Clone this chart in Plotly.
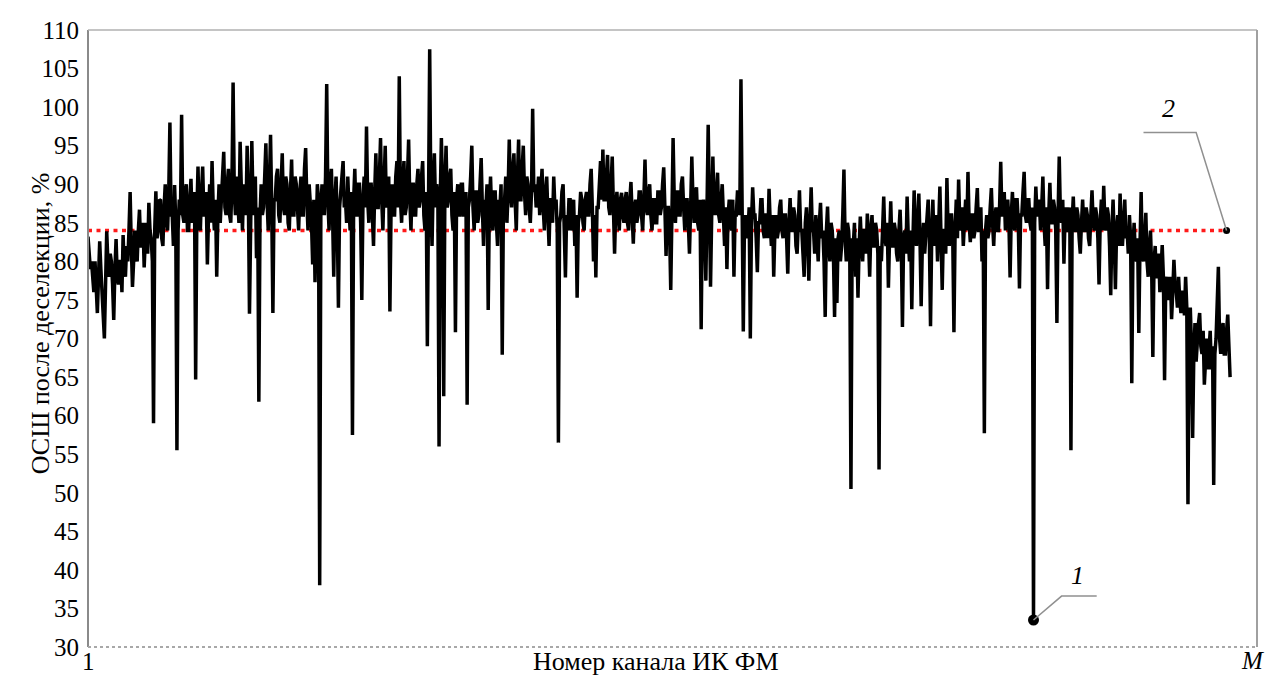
import plotly.graph_objects as go

# OSNR after deselection, %, per IR FPA channel
snr = [
    83.2, 81, 79, 80, 78, 76, 80, 77, 73.3, 78, 82.6, 79, 76, 74, 70, 77, 83.9, 80, 78, 81,
    80, 77, 72.4, 79, 82.9, 78, 77, 80, 80, 76, 83.4, 79, 78, 82, 80, 84, 89, 82, 76.7, 80,
    84, 81, 80, 84, 86.7, 82, 82, 85, 79.2, 83, 85, 81, 87.6, 84, 83, 80, 59, 84, 89.1, 83,
    84, 88, 87.9, 83, 82, 87, 90, 85, 84, 89, 98, 86, 86, 82, 89.9, 85, 55.5, 84, 88, 86,
    99, 86, 85, 89, 90, 84, 84, 88, 90.7, 85, 86, 89, 64.7, 86, 92.3, 85, 84, 89, 92.3, 86,
    86, 89, 79.6, 86, 90, 85, 93, 87, 84, 88, 78, 86, 90, 85, 88, 91, 94.2, 87, 86, 90,
    92, 86, 85, 90, 103.2, 89, 86, 91, 88, 85, 95.5, 88, 84, 90, 88, 86, 95, 89, 73.2, 86,
    95.6, 88, 86, 91, 80.4, 87, 61.8, 86, 90, 86, 87, 91, 95.3, 88, 84, 90, 96.4, 87, 73.3, 88,
    88, 91, 92, 86, 85, 90, 94, 87, 86, 91, 90, 85, 84, 89, 93.2, 86, 86, 91, 90, 87,
    84, 89, 91, 86, 86, 92, 94.7, 88, 84, 90, 88, 85, 79.6, 88, 77.3, 86, 90, 88, 38, 87,
    90, 87, 86, 91, 103, 88, 84, 90, 92, 86, 78, 88, 91, 85, 74, 87, 89, 91, 93, 87,
    88, 85, 91, 87, 84, 89, 57.5, 88, 92, 86, 86, 90, 90, 85, 75, 88, 91, 87, 97.5, 88,
    85, 90, 90, 86, 82, 89, 94, 87, 87, 91, 96, 88, 84, 90, 95, 87, 88, 91, 73.5, 87,
    90, 86, 86, 91, 93, 87, 104, 88, 85, 90, 93, 86, 87, 91, 95.8, 88, 84, 90, 90, 86,
    86, 90, 92, 87, 88, 91, 93, 86, 84, 89, 69, 88, 107.5, 88, 82, 90, 94, 87, 90, 88,
    56, 88, 96, 89, 62.5, 90, 95, 87, 88, 91, 92, 86, 84, 89, 70.8, 88, 90, 86, 86, 90,
    90, 86, 86, 89, 61.4, 87, 88, 91, 95, 87, 84, 89, 89, 85, 86, 90, 93.4, 87, 82, 88,
    87, 90, 73.7, 87, 91, 86, 84, 89, 89, 85, 82, 88, 87, 90, 67.9, 87, 88, 91, 85, 89,
    95.8, 89, 87, 92, 94, 88, 84, 91, 95.8, 88, 88, 92, 95, 89, 86, 91, 90, 87, 85, 89,
    99.8, 89, 90, 87, 88, 91, 86, 89, 92, 87, 84, 89, 91, 86, 82, 88, 88, 85, 91, 87,
    88, 84, 56.5, 85, 86, 89, 90, 84, 77.9, 86, 84, 88, 88, 84, 85, 88, 82, 86, 75.3, 85,
    86, 89, 88, 85, 84, 88, 89, 86, 86, 90, 92, 87, 80, 86, 77.9, 87, 87, 90, 93, 88,
    94.5, 88, 88, 91, 93.8, 87, 86, 90, 93.6, 87, 81, 87, 89, 86, 84, 88, 88.9, 86, 85, 88,
    89, 85, 84, 88, 90.3, 86, 82.3, 87, 88, 85, 86, 89, 89, 86, 84, 88, 93.2, 87, 86, 89,
    90, 86, 84, 88, 88, 85, 85, 89, 89, 86, 87, 90, 92.2, 87, 80.7, 87, 87, 84, 76.3, 86,
    96, 88, 85, 89, 89, 86, 86, 90, 91, 87, 84, 88, 88, 85, 81, 87, 93.6, 88, 85, 89,
    89.6, 85, 84, 88, 71.2, 86, 88, 84, 77.5, 87, 97.7, 88, 76.7, 86, 93.6, 87, 86, 89, 91.5, 86,
    85, 88, 90, 86, 82, 87, 79, 86, 88, 85, 84, 88, 78, 86, 86, 89, 89, 86, 103.6, 87,
    70.9, 85, 86, 83, 84, 87, 70, 85, 89.6, 86, 86, 83, 78.6, 85, 85, 88, 88, 84, 83, 86,
    86, 83, 89.4, 85, 82, 86, 78, 84, 86, 83, 84, 87, 88, 84, 83, 86, 86, 83, 78.4, 85,
    88.2, 84, 84, 87, 86, 82, 81, 85, 89.2, 84, 84, 81, 78, 85, 87, 83, 77.5, 85, 89.6, 84,
    84, 81, 86, 83, 80, 85, 87.6, 83, 84, 80, 72.8, 84, 87.1, 82, 80, 85, 84, 81, 72.8, 83,
    74.6, 83, 84, 80, 82, 86, 91.9, 83, 80, 85, 84, 81, 50.5, 83, 82, 85, 78, 83, 75.3, 82,
    85.8, 82, 80, 84, 84, 81, 86.2, 83, 78, 84, 86, 82, 82, 85, 84, 81, 53, 82, 80, 84,
    88.4, 83, 82, 85, 76.6, 83, 87.8, 82, 82, 85, 84, 81, 80, 84, 86.7, 82, 71.5, 83, 84, 81,
    88.4, 83, 80, 84, 73.8, 83, 89.2, 84, 82, 85, 88.8, 83, 74.2, 82, 85, 81, 83, 86, 88, 83,
    71.6, 83, 88, 82, 84, 86, 80, 84, 89.7, 83, 76.3, 84, 84, 81, 90.8, 84, 82, 86, 86, 83,
    70.8, 84, 88, 83, 90.6, 85, 84, 87, 82, 85, 88, 84, 91.6, 85, 82.5, 86, 86, 83, 84, 87,
    89.5, 84, 84, 87, 80, 84, 57.7, 84, 86, 83, 84, 87, 89.5, 85, 82, 86, 87, 84, 84, 87,
    92.9, 86, 86, 89, 84, 87, 88, 85, 77.9, 86, 89, 85, 84, 88, 88, 85, 76.5, 86, 86, 89,
    91.6, 86, 85, 88, 88, 85, 84, 87, 33.5, 85, 89.7, 86, 86, 88, 84, 87, 91, 85, 82, 87,
    76.4, 86, 90.2, 85, 85, 88, 87, 84, 72, 86, 93.6, 86, 85, 88, 79.7, 86, 87, 84, 84, 87,
    55.5, 85, 88.4, 84, 84, 87, 86, 83, 81, 85, 88, 84, 84, 87, 86, 83, 82, 86, 89.2, 85,
    84, 87, 86, 83, 77, 85, 88, 84, 89.8, 85, 84, 87, 86, 82, 75.6, 84, 88, 83, 76.4, 84,
    86, 82, 88.8, 84, 82, 85, 88, 83, 84, 81, 86, 83, 64.2, 82, 85, 81, 80, 83, 70.7, 82,
    89, 81, 80, 83, 86.3, 80, 78, 82, 84, 79, 67.6, 80, 82, 78, 78, 81, 76, 79, 82.1, 78,
    64.6, 77, 78, 75, 76, 78, 72.5, 76, 80.2, 77, 76, 74, 78, 75, 73.3, 76, 76, 73, 78, 74,
    48.5, 70, 74, 69, 57.1, 68, 72, 67, 70, 72, 73.3, 69, 68, 71, 64, 68, 70, 66, 68, 71,
    66, 69, 51, 68, 70, 74, 79.3, 70, 68, 71, 72, 68, 68, 71, 73.1, 69, 65,
]
channels = list(range(1, len(snr) + 1))
threshold = 84.0
x_max = 1000
y_range = [30, 110]
y_ticks = list(range(30, 111, 5))
x_tick_labels = ["1", "<i>M</i>"]
x_title = "Номер канала ИК ФМ"
y_title = "ОСШ после деселекции, %"

FONT = "Liberation Serif"

fig = go.Figure()

x_end = channels[-1] - 3
fig.add_trace(go.Scatter(
    x=[channels[0], x_end], y=[threshold, threshold],
    mode="lines", line=dict(color="#ff1a1a", width=3.5, dash="4px,4.5px"),
    hoverinfo="skip", showlegend=False))

fig.add_trace(go.Scatter(
    x=channels, y=snr, mode="lines",
    line=dict(color="black", width=3.5), showlegend=False))

# point 1 : minimum
imin = min(range(len(snr)), key=lambda i: snr[i])
xm, ym = channels[imin], snr[imin]
fig.add_trace(go.Scatter(x=[xm], y=[ym], mode="markers",
                         marker=dict(color="black", size=11), showlegend=False))
fig.add_trace(go.Scatter(x=[xm, xm + 24, xm + 54], y=[ym, ym + 3.1, ym + 3.1],
                         mode="lines", line=dict(color="#909090", width=1.5),
                         showlegend=False))
fig.add_annotation(x=xm + 38, y=ym + 5.8, text="<i>1</i>", showarrow=False,
                   font=dict(family=FONT, size=26, color="black"))

# point 2 : end of threshold line
fig.add_trace(go.Scatter(x=[x_end], y=[threshold], mode="markers",
                         marker=dict(color="black", size=7), showlegend=False))
fig.add_trace(go.Scatter(x=[x_end, x_end - 26, x_end - 71],
                         y=[threshold, threshold + 12.7, threshold + 12.7],
                         mode="lines", line=dict(color="#909090", width=1.5),
                         showlegend=False))
fig.add_annotation(x=x_end - 50, y=threshold + 15.8, text="<i>2</i>", showarrow=False,
                   font=dict(family=FONT, size=26, color="black"))

# frame
fig.add_shape(type="line", xref="paper", yref="paper", x0=0, x1=0, y0=0, y1=1,
              line=dict(color="#8a8a8a", width=2))
fig.add_shape(type="line", xref="paper", yref="paper", x0=0, x1=1, y0=1, y1=1,
              line=dict(color="#b0b0b0", width=1.5))
fig.add_shape(type="line", xref="paper", yref="paper", x0=1, x1=1, y0=0, y1=1,
              line=dict(color="#a0a0a0", width=2))
fig.add_shape(type="line", xref="paper", yref="paper", x0=0, x1=1, y0=0, y1=0,
              line=dict(color="#a8a8a8", width=2, dash="dot"))

# x labels
fig.add_annotation(x=0, y=0, xref="paper", yref="paper", text=x_tick_labels[0],
                   showarrow=False, xanchor="center", yanchor="top", yshift=1,
                   font=dict(family=FONT, size=25, color="black"))
fig.add_annotation(x=1, y=0, xref="paper", yref="paper", text=x_tick_labels[1],
                   showarrow=False, xanchor="center", yanchor="top", yshift=2, xshift=-5,
                   font=dict(family=FONT, size=25, color="black"))
fig.add_annotation(x=0.486, y=0, xref="paper", yref="paper", text=x_title,
                   showarrow=False, xanchor="center", yanchor="top", yshift=2,
                   font=dict(family=FONT, size=26, color="black"))
fig.add_annotation(x=-0.055, y=0.525, xref="paper", yref="paper", text=y_title,
                   showarrow=False, textangle=-90,
                   font=dict(family=FONT, size=26, color="black"))

fig.update_layout(
    width=1271, height=679,
    margin=dict(l=88, r=14, t=30, b=32),
    plot_bgcolor="white", paper_bgcolor="white",
    font=dict(family=FONT, color="black"),
    xaxis=dict(range=[1, x_max], showgrid=False, zeroline=False,
               showticklabels=False, ticks=""),
    yaxis=dict(range=y_range, tickvals=y_ticks, showgrid=False, zeroline=False,
               ticks="", ticklabelstandoff=8,
               tickfont=dict(family=FONT, size=25, color="black")),
    showlegend=False,
)

fig.write_html("out.html")
